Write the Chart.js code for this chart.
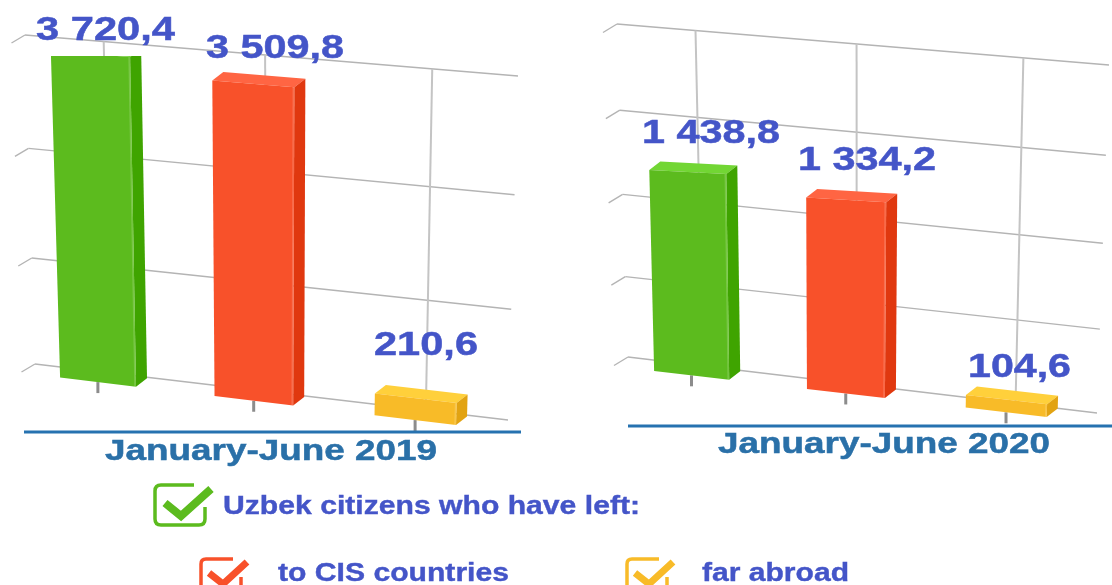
<!DOCTYPE html>
<html>
<head>
<meta charset="utf-8">
<script src="https://cdn.jsdelivr.net/npm/chart.js@4"></script>
<style>
    html, body { margin: 0; padding: 0; background: #fff; overflow: hidden; }
    #page { position: relative; width: 1112px; height: 585px; filter: blur(0.5px); }
    canvas { position: absolute; top: 0; }
    #legend { position: absolute; left: 0; top: 0; }
    #legend text { font: bold 26px "Liberation Sans", Arial, sans-serif; fill: #4455c8; stroke: #4455c8; stroke-width: 0.4px; }
</style>
</head>
<body>
<div id="page">
    <canvas id="chart2019" width="600" height="480" style="left:0"></canvas>
    <canvas id="chart2020" width="512" height="480" style="left:600px"></canvas>
    <svg id="legend" width="1112" height="585">
        <path d="M205 507v12q0 6-6 6h-38q-6 0-6-6v-28q0-6 6-6h33" fill="none" stroke="#5cbb1e" stroke-width="3.5"/>
        <path d="M165 503l16 13 30-27" fill="none" stroke="#5cbb1e" stroke-width="8"/>
        <text x="223" y="514" textLength="417" lengthAdjust="spacingAndGlyphs">Uzbek citizens who have left:</text>
        <path d="M241 577v8M201 590v-26q0-5 5-5h27" fill="none" stroke="#f8512a" stroke-width="3.5"/>
        <path d="M209 573l14 11 24-22" fill="none" stroke="#f8512a" stroke-width="7"/>
        <text x="278" y="581" textLength="231" lengthAdjust="spacingAndGlyphs">to CIS countries</text>
        <path d="M667 577v8M627 590v-26q0-5 5-5h27" fill="none" stroke="#f8bb28" stroke-width="3.5"/>
        <path d="M635 573l14 11 24-22" fill="none" stroke="#f8bb28" stroke-width="7"/>
        <text x="702" y="581" textLength="147" lengthAdjust="spacingAndGlyphs">far abroad</text>
    </svg>
</div>
<script>
const categories = ['Total', 'to CIS countries', 'far abroad'];
const values2019 = [3720.4, 3509.8, 210.6];
const values2020 = [1438.8, 1334.2, 104.6];
const ticks2019 = [0, 1250, 2500, 3750];
const ticks2020 = [0, 500, 1000, 1500, 2000];
const title2019 = 'January-June 2019';
const title2020 = 'January-June 2020';

const frontColors = ['#5cbb1e', '#f8512a', '#f8bb28'];
const sideColors = ['#3fa400', '#e0380f', '#e2a312'];
const topColors = ['#72d634', '#ff6543', '#ffd03b'];
const BLUE = '#4455c8';
const TITLE_BLUE = '#2a70a8';

// value label like "3 720,4"
const formatValue = (v) => {
    const [int, dec] = v.toFixed(1).split('.');
    return int.replace(/\B(?=(\d{3})+$)/g, ' ') + ',' + dec;
};

// maps the unit square onto a quad: [bottom-left, bottom-right, top-right, top-left]
const makeProjection = (q, bendU, bendV) => {
    const [p0, p1, p2, p3] = q;
    const dx1 = p1[0] - p2[0], dx2 = p3[0] - p2[0], sx = p0[0] - p1[0] + p2[0] - p3[0];
    const dy1 = p1[1] - p2[1], dy2 = p3[1] - p2[1], sy = p0[1] - p1[1] + p2[1] - p3[1];
    const den = dx1 * dy2 - dx2 * dy1;
    const g = (sx * dy2 - dx2 * sy) / den;
    const h = (dx1 * sy - sx * dy1) / den;
    const a = p1[0] - p0[0] + g * p1[0], b = p3[0] - p0[0] + h * p3[0];
    const d = p1[1] - p0[1] + g * p1[1], e = p3[1] - p0[1] + h * p3[1];
    const bend = (t, k) => k * t / (1 + (k - 1) * t);
    return (u, v) => {
        const uu = bend(u, bendU), vv = bend(v, bendV);
        const w = g * uu + h * vv + 1;
        return [(a * uu + b * vv + p0[0]) / w, (d * uu + e * vv + p0[1]) / w];
    };
};

const poly = (ctx, pts, color) => {
    ctx.beginPath();
    pts.forEach((p, i) => i ? ctx.lineTo(p[0], p[1]) : ctx.moveTo(p[0], p[1]));
    ctx.closePath();
    ctx.fillStyle = color;
    ctx.fill();
};

const line = (ctx, a, b, color, width) => {
    ctx.beginPath();
    ctx.moveTo(a[0], a[1]);
    ctx.lineTo(b[0], b[1]);
    ctx.strokeStyle = color;
    ctx.lineWidth = width;
    ctx.stroke();
};

// text squeezed to the width it has in the picture
const fitText = (ctx, text, x, y, width, font, color) => {
    ctx.save();
    ctx.font = font;
    ctx.fillStyle = color;
    ctx.strokeStyle = color;
    ctx.lineWidth = 0.5;
    ctx.textBaseline = 'alphabetic';
    ctx.translate(x, y);
    ctx.scale(width / ctx.measureText(text).width, 1);
    ctx.fillText(text, 0, 0);
    ctx.strokeText(text, 0, 0);
    ctx.restore();
};

const perspectivePlugin = {
    id: 'perspective',
    beforeDatasetsDraw(chart, args, o) {
        const {ctx, chartArea: area, scales} = chart;
        const wall = makeProjection(o.wall, 1, o.wallBend);
        const front = makeProjection(o.front, o.frontBendU, o.frontBend);
        const toV = (px) => (area.bottom - px) / area.height;
        const toU = (px) => (px - area.left) / area.width;
        const bars = chart.getDatasetMeta(0).data;

        ctx.save();
        ctx.translate(-o.offsetX, 0);

        // back wall and floor stubs
        o.ticks.forEach((t) => {
            const v = toV(scales.y.getPixelForValue(t));
            const a = wall(0, v), b = wall(1, v);
            line(ctx, a, b, '#b4b4b4', 1.4);
            line(ctx, a, [a[0] + o.stub[0], a[1] + o.stub[1]], '#b4b4b4', 1.4);
        });
        bars.forEach((el) => {
            const u = toU(el.x);
            line(ctx, wall(u, 0), wall(u, 1), '#c4c4c4', 2);
        });

        bars.forEach((el, i) => {
            const ul = toU(el.x - el.width / 2), ur = toU(el.x + el.width / 2);
            const vTop = toV(el.y), vBase = toV(el.base);
            const fl = front(ul, vBase), fr = front(ur, vBase);
            const tl = front(ul, vTop), tr = front(ur, vTop);
            const back = (p) => [p[0] + o.depth[0], p[1] + o.depth[1]];
            const mid = front(toU(el.x), vBase);

            line(ctx, mid, [mid[0], mid[1] + 11], '#8c8c8c', 3);

            ctx.save();
            ctx.beginPath();
            ctx.rect(0, o.clipTop, 1200, 600);
            ctx.clip();
            poly(ctx, [tl, tr, back(tr), back(tl)], topColors[i]);
            poly(ctx, [fr, back(fr), back(tr), tr], sideColors[i]);
            poly(ctx, [fl, fr, tr, tl], frontColors[i]);
            line(ctx, [fr[0] - 1, fr[1]], [tr[0] - 1, tr[1]], 'rgba(255,255,255,0.18)', 1.5);
            ctx.restore();

            const lab = o.labels[i];
            const text = formatValue(chart.data.datasets[0].data[i]);
            fitText(ctx, text, lab[0], lab[1], lab[2], 'bold 34px "Liberation Sans", Arial, sans-serif', BLUE);
        });

        // axis rule and period caption
        line(ctx, [o.rule[0], o.rule[2]], [o.rule[1], o.rule[2]], '#2672b0', 3);
        fitText(ctx, o.title, o.titlePos[0], o.titlePos[1], o.titlePos[2], 'bold 29px "Liberation Sans", Arial, sans-serif', TITLE_BLUE);

        ctx.restore();
        return false;
    }
};

const drawChart = (id, values, ticks, geometry) => new Chart(document.getElementById(id), {
    type: 'bar',
    data: {
        labels: categories,
        datasets: [{
            data: values,
            backgroundColor: frontColors,
            categoryPercentage: 0.8,
            barPercentage: 0.62
        }]
    },
    options: {
        responsive: false,
        animation: false,
        layout: {padding: 0},
        scales: {
            x: {display: false},
            y: {display: false, min: ticks[0], max: ticks[ticks.length - 1]}
        },
        plugins: {
            legend: {display: false},
            tooltip: {enabled: false},
            perspective: {ticks, ...geometry}
        }
    },
    plugins: [perspectivePlugin]
});

drawChart('chart2019', values2019, ticks2019, {
    title: title2019,
    offsetX: 0,
    wall: [[35, 364], [508, 420], [518, 76], [25, 35]],
    wallBend: 0.99,
    front: [[22, 373], [498, 430], [509, 86], [11, 45]],
    frontBendU: 1,
    frontBend: 1.2,
    stub: [-13.5, 8],
    depth: [11, -8.5],
    clipTop: 56,
    labels: [[36, 40, 139], [206, 58, 138], [374, 355, 104]],
    rule: [24, 521, 432],
    titlePos: [105, 460, 332]
});

drawChart('chart2020', values2020, ticks2020, {
    title: title2020,
    offsetX: 600,
    wall: [[628, 357], [1097, 413], [1109, 65], [617, 24]],
    wallBend: 1,
    front: [[616.5, 366.5], [1088.5, 422], [1100.5, 64], [607.5, 56]],
    frontBendU: 1.09,
    frontBend: 0.72,
    stub: [-14, 8.5],
    depth: [11, -8.5],
    clipTop: 0,
    labels: [[642, 143, 138], [798, 170, 138], [968, 377, 103]],
    rule: [628, 1112, 426],
    titlePos: [718, 453, 332]
});
</script>
</body>
</html>
